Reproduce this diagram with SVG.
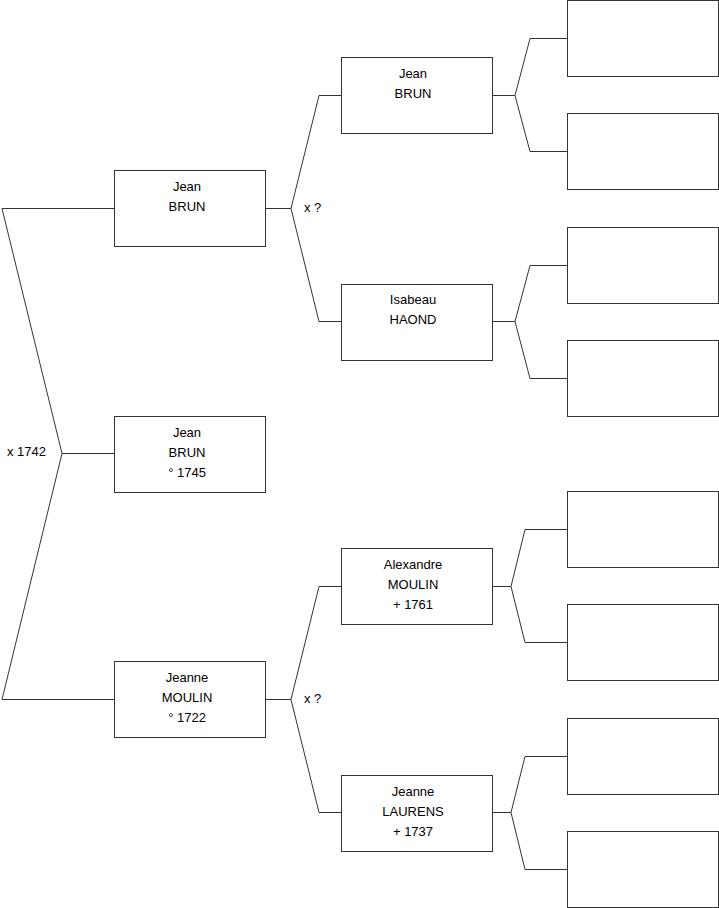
<svg xmlns="http://www.w3.org/2000/svg" width="719" height="908" viewBox="0 0 719 908">
<style>
.box{fill:#fff;stroke:#333;stroke-width:1}
.ln{fill:none;stroke:#333;stroke-width:1}
text{font-family:"Liberation Sans",Arial,sans-serif;font-size:13px;fill:#000}
.c{text-anchor:middle}
</style>
<rect width="719" height="908" fill="#fff"/>
<g id="connectors">
<path class="ln" d="M114,208.5 H2 L62,453.5 L2,699.5 H114 M62,453.5 H114"/>
<path class="ln" d="M265,208.5 H291 L319,95.5 H341 M291,208.5 L319,321.5 H341"/>
<path class="ln" d="M265,699.5 H291 L319,586.5 H341 M291,699.5 L319,812.5 H341"/>
<path class="ln" d="M492,95.5 H515 L530,38.5 H567 M515,95.5 L530,151.5 H567"/>
<path class="ln" d="M492,321.5 H515 L530,265.5 H567 M515,321.5 L530,378.5 H567"/>
<path class="ln" d="M492,586.5 H511 L525,529.5 H567 M511,586.5 L525,642.5 H567"/>
<path class="ln" d="M492,812.5 H511 L525,756.5 H567 M511,812.5 L525,869.5 H567"/>
<text x="7" y="456">x 1742</text>
<text x="304" y="212">x ?</text>
<text x="304" y="703">x ?</text>
</g>
<g id="n1"><rect class="box" x="114.5" y="170.5" width="151" height="76"/><text class="c" x="187" y="191">Jean</text><text class="c" x="187" y="211">BRUN</text></g>
<g id="n0"><rect class="box" x="114.5" y="416.5" width="151" height="76"/><text class="c" x="187" y="437">Jean</text><text class="c" x="187" y="457">BRUN</text><text class="c" x="187" y="477">° 1745</text></g>
<g id="n2"><rect class="box" x="114.5" y="661.5" width="151" height="76"/><text class="c" x="187" y="682">Jeanne</text><text class="c" x="187" y="702">MOULIN</text><text class="c" x="187" y="722">° 1722</text></g>
<g id="n3"><rect class="box" x="341.5" y="57.5" width="151" height="76"/><text class="c" x="413" y="78">Jean</text><text class="c" x="413" y="98">BRUN</text></g>
<g id="n4"><rect class="box" x="341.5" y="284.5" width="151" height="76"/><text class="c" x="413" y="304">Isabeau</text><text class="c" x="413" y="324">HAOND</text></g>
<g id="n5"><rect class="box" x="341.5" y="548.5" width="151" height="76"/><text class="c" x="413" y="569">Alexandre</text><text class="c" x="413" y="589">MOULIN</text><text class="c" x="413" y="609">+ 1761</text></g>
<g id="n6"><rect class="box" x="341.5" y="775.5" width="151" height="76"/><text class="c" x="413" y="796">Jeanne</text><text class="c" x="413" y="816">LAURENS</text><text class="c" x="413" y="836">+ 1737</text></g>
<g id="n7"><rect class="box" x="567.5" y="0.5" width="151" height="76"/></g>
<g id="n8"><rect class="box" x="567.5" y="113.5" width="151" height="76"/></g>
<g id="n9"><rect class="box" x="567.5" y="227.5" width="151" height="76"/></g>
<g id="n10"><rect class="box" x="567.5" y="340.5" width="151" height="76"/></g>
<g id="n11"><rect class="box" x="567.5" y="491.5" width="151" height="76"/></g>
<g id="n12"><rect class="box" x="567.5" y="604.5" width="151" height="76"/></g>
<g id="n13"><rect class="box" x="567.5" y="718.5" width="151" height="76"/></g>
<g id="n14"><rect class="box" x="567.5" y="831.5" width="151" height="76"/></g>
</svg>
